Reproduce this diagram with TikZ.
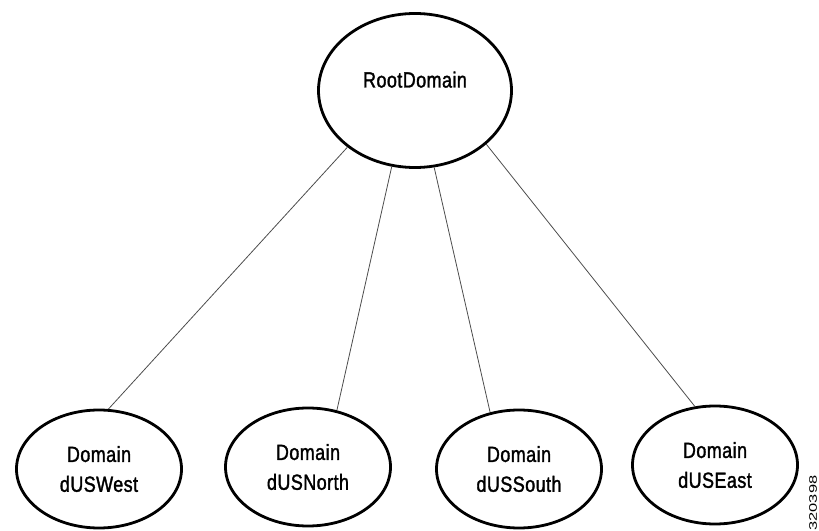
\documentclass[tikz,border=0pt]{standalone}
\usepackage{fontspec}
\usetikzlibrary{shapes.geometric}
\newfontfamily\narrowfont[FakeStretch=0.82, FakeBold=1.5, LetterSpace=2]{Liberation Sans}
\setsansfont{Liberation Sans}

\begin{document}
\begin{tikzpicture}[x=1bp, y=-1bp,
		domainbox/.style={draw, ellipse, line width=2.8bp, inner sep=0pt, align=center, font=\narrowfont\fontsize{22}{30}\selectfont},
		link/.style={draw=black!70, line width=0.8bp}]
		\useasboundingbox (0,0) rectangle (819,531);
		\node[domainbox, minimum width=193bp, minimum height=154bp] (root) at (415,90.5) {\smash{\raisebox{3bp}{RootDomain}}};
		\foreach \name/\x/\y/\txt in {west/99/469/dUSWest, north/308/467/dUSNorth, south/519/469/dUSSouth, east/715/465/dUSEast}
			\node[domainbox, minimum width=165bp, minimum height=118bp] (\name) at (\x,\y) {Domain\\\txt};
		\foreach \a/\name/\b in {220/west/81, 253/north/63, 284/south/117, 323/east/109}
			\draw[link] (root.\a) -- (\name.\b);
		\node[rotate=90, inner sep=0pt, font=\sffamily\fontsize{11}{11}\selectfont] (code) at (813,503) {\scalebox{1.5}[1]{320398}};
	\end{tikzpicture}
\end{document}
